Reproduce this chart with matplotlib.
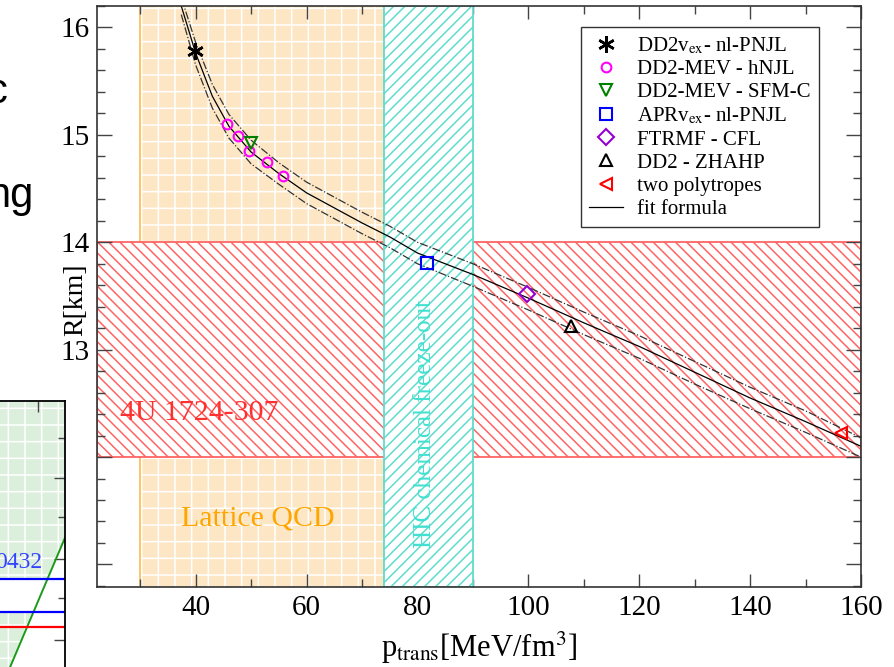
import matplotlib
matplotlib.use("Agg")
import matplotlib.pyplot as plt
from matplotlib.ticker import MultipleLocator

plt.rcParams["font.family"] = ["Liberation Serif", "DejaVu Serif"]
plt.rcParams["mathtext.fontset"] = "stix"
plt.rcParams["hatch.linewidth"] = 1.1

# ---- fit formula ----
fit_p = [37.4, 40, 43, 46, 50, 55, 60, 65, 70, 75, 80, 90, 100, 110, 120, 130, 140, 150, 160]
fit_r = [16.20, 15.76, 15.36, 15.08, 14.84, 14.64, 14.46, 14.32, 14.18, 14.05, 13.90,
         13.70, 13.48, 13.25, 13.03, 12.79, 12.55, 12.33, 12.10]
fit_r_hi = [16.28, 15.86, 15.47, 15.19, 14.95, 14.74, 14.56, 14.42, 14.28, 14.15, 14.00,
            13.80, 13.58, 13.35, 13.13, 12.89, 12.65, 12.43, 12.18]
fit_r_lo = [16.12, 15.65, 15.25, 14.97, 14.73, 14.54, 14.36, 14.22, 14.08, 13.95, 13.80,
            13.59, 13.37, 13.14, 12.92, 12.68, 12.45, 12.23, 12.00]

# ---- model points ----
dd2_ex_p, dd2_ex_r = [39.8], [15.78]
mev_hnjl_p = [45.6, 47.7, 49.7, 52.8, 55.7]
mev_hnjl_r = [15.10, 14.99, 14.85, 14.75, 14.62]
mev_sfm_p, mev_sfm_r = [50.0], [14.92]
apr_p, apr_r = [81.7], [13.81]
ftrmf_p, ftrmf_r = [99.8], [13.52]
zhahp_p, zhahp_r = [107.7], [13.22]
poly_p, poly_r = [156.4], [12.22]

# ---- constraint bands ----
lattice_p = (30, 74)
hic_p = (74, 90)
lmxb_r = (12.0, 14.0)

# ---- cut-off neighbour plot at bottom left (axes units) ----
side_green_x = [0.775, 1.01, 1.01]
side_green_y = [0.20, 0.606, 1.0]
side_blue_y = (0.366, 0.465)
side_red_y = 0.32

fig = plt.figure(figsize=(8.95, 6.67), dpi=100)

# =========================
# NEIGHBOUR PLOT + SLIDE TEXT
# =========================
side = fig.add_axes([-0.2, -0.1, 0.2726, 0.499])
side.set_xlim(0, 1)
side.set_ylim(0, 1)
side.fill_betweenx(side_green_y, 0, side_green_x, facecolor="#dcefdc", edgecolor="none")
side.fill_betweenx(side_green_y, 0, side_green_x, facecolor="none", edgecolor="white",
                   hatch="+", lw=0)
side.axhspan(side_blue_y[0], side_blue_y[1], facecolor="white", edgecolor="none")
side.plot(side_green_x[:2], side_green_y[:2], color="#1a9a1a", lw=1.4)
for yb in side_blue_y:
    side.axhline(yb, color="blue", lw=1.6)
side.axhline(side_red_y, color="red", lw=1.6)
side.text(0.906, 0.513, "0432", color="#3344ff", fontsize=17, ha="right", va="center")
for s in ["left", "bottom"]:
    side.spines[s].set_visible(False)
for s in ["top", "right"]:
    side.spines[s].set_linewidth(1.3)
side.set_xticks([0.889])
side.set_xticklabels([])
side.set_yticks([0.281, 0.524, 0.768])
side.set_yticks([0.407, 0.651, 0.888], minor=True)
side.set_yticklabels([])
side.tick_params(which="both", direction="in", left=False, bottom=False,
                 right=True, top=True, color="#444444", width=1.0)
side.tick_params(which="major", length=8)
side.tick_params(which="minor", length=5)

fig.text(7 / 895, 1 - 103 / 667, "c", fontsize=30, family="Liberation Sans",
         ha="right", va="baseline")
fig.text(33 / 895, 1 - 207 / 667, "ng", fontsize=30, family="Liberation Sans",
         ha="right", va="baseline")

# =========================
# MAIN PLOT
# =========================
ax = fig.add_axes([97 / 895, 80 / 667, 764 / 895, 581 / 667])

ax.axvspan(*lattice_p, facecolor="#fde6c4", edgecolor="none", zorder=0)
ax.axvspan(*lattice_p, facecolor="none", edgecolor="white", hatch="+", lw=0, zorder=0.1)
ax.axvline(lattice_p[0], color="#ffbb55", lw=1.2, zorder=0.2)

ax.axhspan(*lmxb_r, facecolor="white", edgecolor="#ff6464", hatch="\\\\\\", lw=1.3, zorder=1)
ax.axvspan(*hic_p, facecolor="white", edgecolor="#5fdccc", hatch="///", lw=1.3, zorder=2)

ax.text(26.3, 12.41, "4U 1724-307", color="#ff3030", fontsize=21.5,
        ha="left", va="center", zorder=3)
ax.text(51.2, 11.43, "Lattice QCD", color="#ffa500", fontsize=21.5,
        ha="center", va="center", zorder=3)
ax.text(81.3, 12.31, "HIC chemical freeze-out", color="#40e0d0", fontsize=18,
        rotation=90, ha="center", va="center", zorder=3)

ax.plot(fit_p, fit_r_hi, color="#333333", lw=0.9, ls="-.", zorder=4)
ax.plot(fit_p, fit_r_lo, color="#333333", lw=0.9, ls="-.", zorder=4)
h8, = ax.plot(fit_p, fit_r, color="black", lw=0.9, zorder=4, label="fit formula")

mk = dict(ls="none", mfc="none", mew=1.5, zorder=5)
h1, = ax.plot(dd2_ex_p, dd2_ex_r, marker=(6, 2, 0), color="black", ms=12, mew=1.8,
              ls="none", zorder=5, label=r"DD2v$_{\rm ex}$- nl-PNJL")
h2, = ax.plot(mev_hnjl_p, mev_hnjl_r, marker="o", color="magenta", ms=7, **mk,
              label="DD2-MEV - hNJL")
h3, = ax.plot(mev_sfm_p, mev_sfm_r, marker="v", color="green", ms=9, **mk,
              label="DD2-MEV - SFM-C")
h4, = ax.plot(apr_p, apr_r, marker="s", color="blue", ms=8.5, **mk,
              label=r"APRv$_{\rm ex}$- nl-PNJL")
h5, = ax.plot(ftrmf_p, ftrmf_r, marker="D", color="#9400d3", ms=8, **mk,
              label="FTRMF - CFL")
h6, = ax.plot(zhahp_p, zhahp_r, marker="^", color="black", ms=9, **mk,
              label="DD2 - ZHAHP")
h7, = ax.plot(poly_p, poly_r, marker="<", color="red", ms=9, **mk,
              label="two polytropes")

ax.set_xlim(22.2, 160)
ax.set_ylim(10.79, 16.2)

ax.set_xticks(range(40, 161, 20))
ax.xaxis.set_minor_locator(MultipleLocator(10))
ax.set_yticks([11, 12, 13, 14, 15, 16])
ax.set_yticklabels(["", "", "13", "14", "15", "16"])
ax.yaxis.set_minor_locator(MultipleLocator(0.2))
ax.tick_params(which="both", direction="in", top=True, right=True,
               color="#444444", width=1.0, labelsize=21)
ax.tick_params(axis="x", which="major", length=9.5, pad=6)
ax.tick_params(axis="y", which="major", length=11, pad=5)
ax.tick_params(which="minor", length=5.8)
for s in ax.spines.values():
    s.set_linewidth(1.2)
    s.set_color("#333333")
    s.set_zorder(6)

ax.set_xlabel(r"p$_{\rm trans}$[MeV/fm$^3$]", fontsize=22, labelpad=6)
ax.set_ylabel("R[km]", fontsize=20)
ax.yaxis.set_label_coords(-0.012, 0.494)

leg = ax.legend(handles=[h1, h2, h3, h4, h5, h6, h7, h8],
                loc="upper right", bbox_to_anchor=(0.945, 0.964), fontsize=15,
                frameon=True, fancybox=False, edgecolor="#333333", framealpha=1,
                handlelength=1.6, handletextpad=0.7, labelspacing=0.17,
                borderpad=0.4, borderaxespad=0, numpoints=1)
leg.get_frame().set_linewidth(1.0)
leg.set_zorder(7)

plt.savefig("out.png", dpi=100)
